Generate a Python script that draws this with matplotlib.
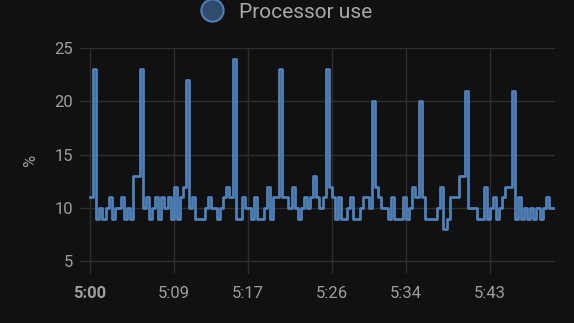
import matplotlib
matplotlib.use("Agg")
import matplotlib.pyplot as plt
from matplotlib.lines import Line2D
import numpy as np

plt.rcParams['font.family'] = ['Roboto', 'DejaVu Sans']

# Processor use (%), sampled every 20 s starting at 5:00
values = [
    11, 23, 9, 10, 9, 10, 11, 9, 10, 10, 11, 9, 10, 9, 13, 13,
    23, 10, 11, 9, 10, 11, 9, 11, 10, 11, 9, 12, 9, 11, 12,
    22, 10, 11, 9, 9, 9, 10, 11, 10, 10, 9, 10, 11, 12, 11,
    24, 9, 9, 11, 10, 10, 9, 11, 9, 9, 10, 12, 9, 11, 11,
    23, 11, 11, 10, 12, 10, 9, 10, 11, 10, 11, 13, 11, 10, 11,
    23, 12, 11, 9, 11, 9, 9, 10, 11, 9, 9, 10, 11, 11, 10,
    20, 12, 11, 10, 10, 9, 11, 9, 9, 9, 11, 9, 10, 12, 11,
    20, 11, 9, 9, 9, 9, 10, 12, 8, 9, 11, 11, 11, 13, 13,
    21, 10, 10, 10, 9, 9, 12, 9, 10, 11, 9, 10, 11, 12, 12,
    21, 9, 11, 9, 10, 9, 10, 9, 10, 9, 10, 11, 10, 10,
]
sample_seconds = 20
x_tick_minutes = [0, 9, 17, 26, 34, 43]
x_tick_labels = ["5:00", "5:09", "5:17", "5:26", "5:34", "5:43"]
y_ticks = [5, 10, 15, 20, 25]
series_name = "Processor use"

t = np.arange(len(values) + 1) * sample_seconds / 60.0
v = list(values) + [values[-1]]

bg = '#111111'
line_c = '#4f80b8'
txt_c = '#9e9e9e'
grid_c = '#2e2e2e'

fig = plt.figure(figsize=(5.74, 3.23), dpi=100, facecolor=bg)
ax = fig.add_axes([80/574, 1-274/323, 475/574, 226/323], facecolor=bg)
ax.plot(t, v, drawstyle='steps-post', color=line_c, lw=2.0)

ax.set_xlim(-10/9.3, t[-1])
ax.set_ylim(3.8, 25)
ax.set_yticks(y_ticks)
ax.set_xticks(x_tick_minutes)
ax.set_xticklabels(x_tick_labels)
for lab in ax.get_xticklabels():
    if lab.get_text() == "5:00":
        lab.set_fontweight('bold')
ax.grid(True, color=grid_c, lw=1)
ax.set_axisbelow(True)
for s in ax.spines.values():
    s.set_visible(False)
ax.tick_params(axis='both', length=0, colors=txt_c, labelsize=12)
ax.tick_params(axis='x', pad=9)
ax.tick_params(axis='y', pad=5)
ax.set_ylabel('%', color=txt_c, fontsize=12, labelpad=12)

handle = Line2D([], [], marker='o', linestyle='none', markersize=16,
                markerfacecolor='#2f4c6e', markeredgecolor=line_c, markeredgewidth=1.5)
leg = fig.legend([handle], [series_name], loc='upper center', bbox_to_anchor=(0.49, 1.05),
                 frameon=False, fontsize=15, handletextpad=0.3, labelcolor='#a8a8a8')

fig.savefig('out.png', dpi=100, facecolor=bg)
